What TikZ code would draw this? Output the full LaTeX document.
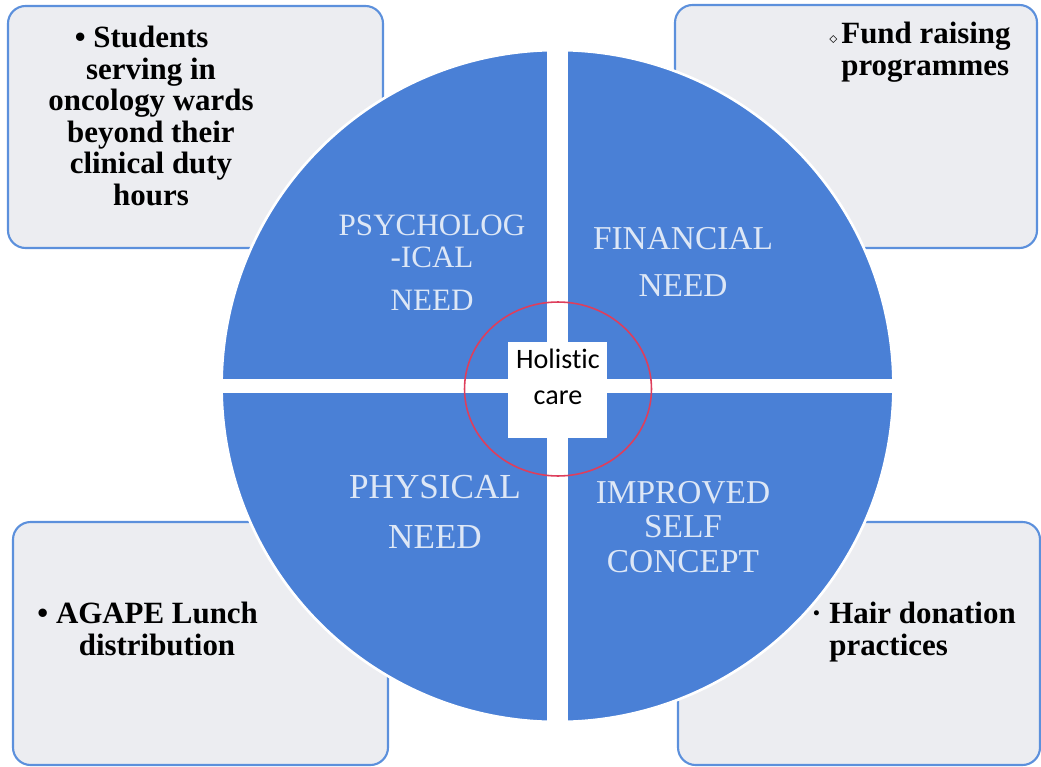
\documentclass[tikz,border=0pt]{standalone}
\usepackage{fontspec}
\setmainfont{Liberation Serif}
\newfontfamily\calibrilike[Ligatures=NoCommon]{Carlito}
\usetikzlibrary{calc}
\definecolor{quadblue}{RGB}{74,128,214}
\definecolor{boxfill}{RGB}{236,237,241}
\definecolor{boxline}{RGB}{92,144,220}
\definecolor{needwhite}{RGB}{221,231,246}
\definecolor{ringred}{RGB}{222,62,92}
\tikzset{
	box/.style={draw=boxline, fill=boxfill, line width=1.2pt, rounded corners=10pt},
	boxtext/.style={inner sep=0pt, font=\fontsize{17.6}{17.9}\selectfont\bfseries},
	needtext/.style={inner sep=0pt, text=needwhite, align=center}
}
\newcommand{\hangbullet}[1]{\makebox[0pt][r]{#1\ }}

\begin{document}
\begin{tikzpicture}[x=0.02cm, y=-0.02cm]
			%%%%% START %%%%%
			\useasboundingbox (0, 0) rectangle (1041, 767);
			
			\draw[box] (8, 6) rectangle (383, 248);
			\draw[box] (675, 5) rectangle (1037, 248);
			\draw[box] (13, 522) rectangle (388, 765);
			\draw[box] (678, 522) rectangle (1040, 765);
			
			\draw[fill=quadblue, draw=white, line width=1.5pt] (557.5, 386) circle [radius=6.72cm];
			\begin{scope}
				\clip (557.5, 386) circle [radius=6.8cm];
				\fill[white] (547, 0) rectangle (568, 767);
				\fill[white] (0, 378.5) rectangle (1041, 393);
			\end{scope}
			
			\node[fill=white, minimum width=1.98cm, minimum height=1.92cm, inner sep=0pt] (core) at (557.5, 390) {};
			\draw[ringred, line width=0.9pt] (558, 389) ellipse [x radius=1.87cm, y radius=1.74cm];
			\node[inner sep=0pt, align=center, font=\calibrilike\fontsize{16}{20.4}\selectfont] (holistic) at (558, 377) {Holistic\\care};
			
			\node[needtext, font=\fontsize{17.7}{18.1}\selectfont] (psych) at (432, 262.5) {PSYCHOLOG\\-ICAL\\[6.3pt]NEED};
			\node[needtext, font=\fontsize{19}{19}\selectfont] (financial) at (683, 262) {FINANCIAL\\[7.6pt]NEED};
			\node[needtext, font=\fontsize{20}{20}\selectfont] (physical) at (435, 512) {PHYSICAL\\[8.3pt]NEED};
			\node[needtext, font=\fontsize{19}{19.8}\selectfont] (selfconcept) at (683, 527) {IMPROVED\\SELF\\CONCEPT};
			
			\node[boxtext, align=center] (students) at (151, 116) {\hangbullet{\textbullet}Students\\serving in\\oncology wards\\beyond their\\clinical duty\\hours};
			\node[boxtext, align=left, anchor=north west] (fund) at (841, 22) {\hangbullet{\small$\diamond$}Fund raising\\programmes};
			\node[boxtext, align=center] (agape) at (157, 629) {\hangbullet{\textbullet}AGAPE Lunch\\distribution};
			\node[boxtext, align=left, anchor=north west] (hair) at (829, 602) {\hangbullet{\textperiodcentered}Hair donation\\practices};
			
			%%%%% END %%%%%
\end{tikzpicture}
\end{document}
